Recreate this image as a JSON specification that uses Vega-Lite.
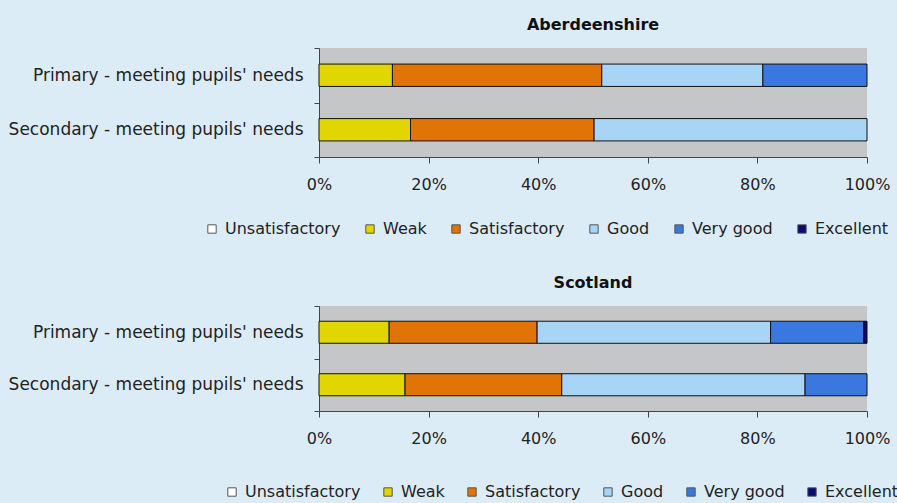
{
  "$schema": "https://vega.github.io/schema/vega-lite/v6.json",
  "background": "#dcecf7",
  "padding": {"left": 8, "top": 17, "right": 20, "bottom": 8},
  "config": {
    "font": "DejaVu Sans",
    "view": {"fill": "#c4c6c8", "stroke": null},
    "axis": {"labelFont": "DejaVu Sans", "labelFontSize": 16, "labelColor": "#222", "domainColor": "#444", "tickColor": "#444", "grid": false, "title": null, "labelLimit": 400},
    "legend": {"labelFont": "DejaVu Sans", "labelFontSize": 16, "labelColor": "#222", "labelLimit": 300},
    "title": {"font": "DejaVu Sans", "fontSize": 16, "fontWeight": "bold", "color": "#111"},
    "concat": {"spacing": 38}
  },
  "data": {"values": [
    {"region": "Aberdeenshire", "cat": "Primary - meeting pupils' needs", "level": "Weak", "o": 1, "v": 13.4},
    {"region": "Aberdeenshire", "cat": "Primary - meeting pupils' needs", "level": "Satisfactory", "o": 2, "v": 38.2},
    {"region": "Aberdeenshire", "cat": "Primary - meeting pupils' needs", "level": "Good", "o": 3, "v": 29.4},
    {"region": "Aberdeenshire", "cat": "Primary - meeting pupils' needs", "level": "Very good", "o": 4, "v": 19.0},
    {"region": "Aberdeenshire", "cat": "Secondary - meeting pupils' needs", "level": "Weak", "o": 1, "v": 16.7},
    {"region": "Aberdeenshire", "cat": "Secondary - meeting pupils' needs", "level": "Satisfactory", "o": 2, "v": 33.5},
    {"region": "Aberdeenshire", "cat": "Secondary - meeting pupils' needs", "level": "Good", "o": 3, "v": 49.8},
    {"region": "Scotland", "cat": "Primary - meeting pupils' needs", "level": "Weak", "o": 1, "v": 12.8},
    {"region": "Scotland", "cat": "Primary - meeting pupils' needs", "level": "Satisfactory", "o": 2, "v": 27.0},
    {"region": "Scotland", "cat": "Primary - meeting pupils' needs", "level": "Good", "o": 3, "v": 42.6},
    {"region": "Scotland", "cat": "Primary - meeting pupils' needs", "level": "Very good", "o": 4, "v": 17.0},
    {"region": "Scotland", "cat": "Primary - meeting pupils' needs", "level": "Excellent", "o": 5, "v": 0.6},
    {"region": "Scotland", "cat": "Secondary - meeting pupils' needs", "level": "Weak", "o": 1, "v": 15.7},
    {"region": "Scotland", "cat": "Secondary - meeting pupils' needs", "level": "Satisfactory", "o": 2, "v": 28.6},
    {"region": "Scotland", "cat": "Secondary - meeting pupils' needs", "level": "Good", "o": 3, "v": 44.4},
    {"region": "Scotland", "cat": "Secondary - meeting pupils' needs", "level": "Very good", "o": 4, "v": 11.3}
  ]},
  "resolve": {"legend": {"color": "independent"}, "scale": {"color": "shared"}},
  "vconcat": [
    {
      "title": {"text": "Aberdeenshire", "anchor": "middle", "offset": 6},
      "width": 548, "height": 109,
      "transform": [{"filter": "datum.region === 'Aberdeenshire'"}],
      "mark": {"type": "bar", "stroke": "#111", "strokeWidth": 1, "height": {"band": 0.41}},
      "encoding": {
        "y": {"field": "cat", "type": "nominal", "scale": {"paddingInner": 0, "paddingOuter": 0},
              "axis": {"tickBand": "extent", "tickSize": 5, "labelPadding": 11, "labelFontSize": 17}},
        "x": {"field": "v", "type": "quantitative", "stack": "normalize",
              "axis": {"format": ".0%", "values": [0, 0.2, 0.4, 0.6, 0.8, 1], "tickSize": 6, "labelPadding": 13, "labelFlush": false}},
        "color": {"field": "level", "type": "nominal",
                  "scale": {"domain": ["Unsatisfactory", "Weak", "Satisfactory", "Good", "Very good", "Excellent"],
                            "range": ["#ffffff", "#e2d600", "#e07406", "#a8d4f6", "#3a78e0", "#0a0a70"]},
                  "legend": {"title": null, "orient": "none", "direction": "horizontal", "legendX": -115, "legendY": 173,
                             "symbolType": "square", "symbolSize": 70, "symbolStrokeColor": "#555", "symbolStrokeWidth": 1, "columnPadding": 21, "labelOffset": 5}},
        "order": {"field": "o", "type": "quantitative"}
      }
    },
    {
      "title": {"text": "Scotland", "anchor": "middle", "offset": 6},
      "width": 548, "height": 105,
      "transform": [{"filter": "datum.region === 'Scotland'"}],
      "mark": {"type": "bar", "stroke": "#111", "strokeWidth": 1, "height": {"band": 0.42}},
      "encoding": {
        "y": {"field": "cat", "type": "nominal", "scale": {"paddingInner": 0, "paddingOuter": 0},
              "axis": {"tickBand": "extent", "tickSize": 5, "labelPadding": 11, "labelFontSize": 17}},
        "x": {"field": "v", "type": "quantitative", "stack": "normalize",
              "axis": {"format": ".0%", "values": [0, 0.2, 0.4, 0.6, 0.8, 1], "tickSize": 6, "labelPadding": 13, "labelFlush": false}},
        "color": {"field": "level", "type": "nominal",
                  "scale": {"domain": ["Unsatisfactory", "Weak", "Satisfactory", "Good", "Very good", "Excellent"],
                            "range": ["#ffffff", "#e2d600", "#e07406", "#a8d4f6", "#3a78e0", "#0a0a70"]},
                  "legend": {"title": null, "orient": "none", "direction": "horizontal", "legendX": -95, "legendY": 178,
                             "symbolType": "square", "symbolSize": 70, "symbolStrokeColor": "#555", "symbolStrokeWidth": 1, "columnPadding": 19, "labelOffset": 5}},
        "order": {"field": "o", "type": "quantitative"}
      }
    }
  ]
}
